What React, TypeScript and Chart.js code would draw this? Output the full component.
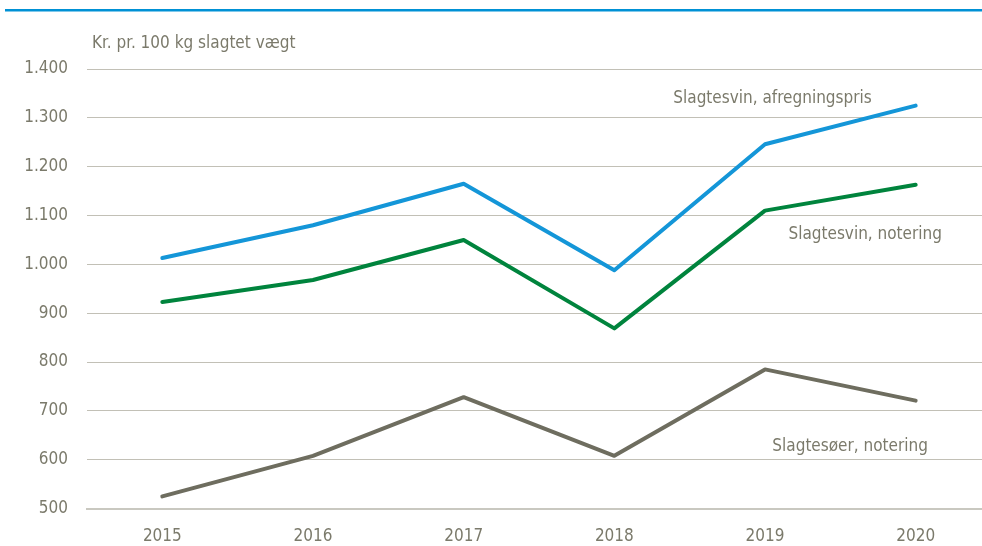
import React, { useEffect, useRef } from "react";
import { Chart, registerables } from "chart.js";

Chart.register(...registerables);

const years = ["2015", "2016", "2017", "2018", "2019", "2020"];
const afregningspris = [1013, 1080, 1165, 988, 1246, 1325];
const sviNotering = [923, 968, 1050, 869, 1110, 1163];
const soeerNotering = [525, 608, 728, 608, 785, 721];

const axisTitle = "Kr. pr. 100 kg slagtet vægt";
const seriesLabels = ["Slagtesvin, afregningspris", "Slagtesvin, notering", "Slagtesøer, notering"];
// label anchors in data units (category index, value)
const labelAnchors = [
  [4.05, 1339],
  [4.665, 1060],
  [4.565, 627],
];

const FONT = "'Liberation Sans Narrow', 'DejaVu Sans Condensed', 'Liberation Sans', sans-serif";
const TEXT = "#7b7a6b";

const overlay = {
  id: "overlay",
  afterDraw(chart: any) {
    const ctx = chart.ctx;
    const xs = chart.scales.x;
    const ys = chart.scales.y;
    ctx.save();
    // top rule
    ctx.fillStyle = "#0091d5";
    ctx.fillRect(5, 9, chart.width, 2.5);
    // axis title
    ctx.fillStyle = TEXT;
    ctx.font = `17px ${FONT}`;
    ctx.textAlign = "left";
    ctx.textBaseline = "middle";
    ctx.fillText(axisTitle, 92, 44);
    // series labels
    ctx.textAlign = "center";
    seriesLabels.forEach((t, i) => {
      const [ix, v] = labelAnchors[i];
      const px = xs.getPixelForValue(0) + (xs.getPixelForValue(1) - xs.getPixelForValue(0)) * ix;
      ctx.fillText(t, px, ys.getPixelForValue(v));
    });
    ctx.restore();
  },
};

export default function App() {
  const ref = useRef<HTMLCanvasElement>(null);
  useEffect(() => {
    document.body.style.margin = "0";
    const chart = new Chart(ref.current!, {
      type: "line",
      data: {
        labels: years,
        datasets: [
          { label: seriesLabels[0], data: afregningspris, borderColor: "#1496d8" },
          { label: seriesLabels[1], data: sviNotering, borderColor: "#00843d" },
          { label: seriesLabels[2], data: soeerNotering, borderColor: "#6e6d5f" },
        ].map((d) => ({
          ...d,
          borderWidth: 4,
          pointRadius: 0,
          tension: 0,
          borderCapStyle: "round" as const,
          borderJoinStyle: "round" as const,
          fill: false,
        })),
      },
      options: {
        responsive: false,
        animation: false,
        layout: { padding: { top: 69, right: 9, bottom: 0, left: 0 } },
        plugins: { legend: { display: false }, tooltip: { enabled: false } },
        scales: {
          x: {
            offset: true,
            grid: { display: false, drawTicks: false },
            border: { display: true, color: "#c9c8c0", width: 2 },
            ticks: { color: TEXT, font: { family: FONT, size: 17 }, padding: 18 },
          },
          y: {
            min: 500,
            max: 1400,
            afterFit: (s: any) => {
              s.width = 87;
            },
            grid: { color: "#c2c0b6", lineWidth: 1, drawTicks: false },
            border: { display: false },
            ticks: {
              stepSize: 100,
              color: TEXT,
              padding: 19,
              font: { family: FONT, size: 17 },
              callback: (v: any) => Number(v).toLocaleString("da-DK"),
            },
          },
        },
      },
      plugins: [overlay],
    });
    return () => chart.destroy();
  }, []);
  return (
    <div style={{ width: 982, height: 546, overflow: "hidden", background: "#fff" }}>
      <canvas ref={ref} width={1000} height={565} style={{ display: "block" }} />
    </div>
  );
}
